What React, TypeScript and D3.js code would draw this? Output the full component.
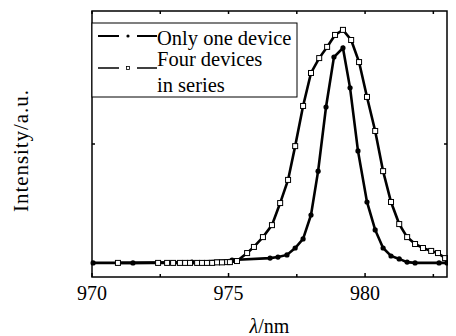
import React from 'react';
import * as d3 from 'd3';

// wavelength (nm) / intensity (a.u.)
const oneDeviceX = [
  970.04, 971.5, 973.66, 975.13, 976.52, 976.81, 977.14, 977.44, 977.73, 978.02, 978.28, 978.57,
  978.86, 979.19, 979.45, 979.74, 980.07, 980.37, 980.66, 980.95, 981.25, 981.54, 981.83, 982.71, 983.0,
];
const oneDeviceY = [
  0.053, 0.053, 0.056, 0.064, 0.071, 0.075, 0.083, 0.109, 0.143, 0.233, 0.398, 0.639, 0.827, 0.861,
  0.711, 0.474, 0.282, 0.177, 0.109, 0.079, 0.068, 0.056, 0.053, 0.053, 0.053,
];

const fourDevicesX = [
  970.95, 972.42, 972.75, 972.97, 973.22, 973.41, 973.59, 973.85, 974.03, 974.21, 974.4, 974.58,
  974.76, 974.95, 975.05, 975.31, 975.68, 975.93, 976.26, 976.59, 976.89, 977.18, 977.44, 977.73,
  978.02, 978.32, 978.61, 978.9, 979.19, 979.49, 979.78, 980.07, 980.37, 980.66, 980.95, 981.25,
  981.54, 981.83, 982.12, 982.42, 982.67, 982.93,
];
const fourDevicesY = [
  0.053, 0.053, 0.053, 0.053, 0.053, 0.053, 0.053, 0.053, 0.053, 0.053, 0.053, 0.055, 0.055, 0.056,
  0.056, 0.06, 0.09, 0.113, 0.15, 0.195, 0.278, 0.365, 0.492, 0.643, 0.767, 0.823, 0.865, 0.91, 0.929,
  0.891, 0.808, 0.677, 0.549, 0.398, 0.282, 0.199, 0.15, 0.124, 0.109, 0.098, 0.09, 0.071,
];

const xLabelTicks = [970, 975, 980];
const xMinorTicks = [972.5, 977.5, 982.5];
const yTicks = [0.5];
const legendLabels = [['Only one device'], ['Four devices', 'in series']];

const width = 456;
const height = 336;

const x = d3.scaleLinear().domain([970, 983]).range([92, 447]);
const y = d3.scaleLinear().domain([0, 1]).range([277, 11]);

const App: React.FC = () => {
  const [x0, x1] = x.range();
  const [y0, y1] = y.range();

  const one = oneDeviceX.map((v, i) => [v, oneDeviceY[i]] as [number, number]);
  const four = fourDevicesX.map((v, i) => [v, fourDevicesY[i]] as [number, number]);

  const line = d3
    .line<[number, number]>()
    .x((d) => x(d[0]))
    .y((d) => y(d[1]));

  const rows = [36, 68];
  const baselines = [45, 66];

  // text inherits the page's default serif face
  return (
    <svg width={width} height={height} style={{ display: 'block', margin: '-8px 0 0 -8px' }}>
      {/* curves */}
      <path d={line(one) ?? ''} fill="none" stroke="#000" strokeWidth={2.6} />
      <path d={line(four) ?? ''} fill="none" stroke="#000" strokeWidth={2.6} />
      {one.map((d, i) => (
        <circle key={'c' + i} cx={x(d[0])} cy={y(d[1])} r={2.6} fill="#000" />
      ))}
      {four.map((d, i) => (
        <rect key={'s' + i} x={x(d[0]) - 2.5} y={y(d[1]) - 2.5} width={5} height={5} fill="#fff" stroke="#000" strokeWidth={1} />
      ))}

      {/* frame */}
      <rect x={x0} y={y1} width={x1 - x0} height={y0 - y1} fill="none" stroke="#000" strokeWidth={1.5} />

      {/* inward ticks */}
      {xLabelTicks.map((t) => (
        <g key={'xt' + t}>
          <line x1={x(t)} x2={x(t)} y1={y0} y2={y0 - 4} stroke="#000" strokeWidth={1.5} />
          <line x1={x(t)} x2={x(t)} y1={y1} y2={y1 + 3} stroke="#000" strokeWidth={1.5} />
          <text x={x(t)} y={300} textAnchor="middle" fontSize={20}>
            {t}
          </text>
        </g>
      ))}
      {xMinorTicks.map((t) => (
        <g key={'xm' + t}>
          <line x1={x(t)} x2={x(t)} y1={y0} y2={y0 - 3} stroke="#000" strokeWidth={1.5} />
          <line x1={x(t)} x2={x(t)} y1={y1} y2={y1 + 3} stroke="#000" strokeWidth={1.5} />
        </g>
      ))}
      {yTicks.map((t) => (
        <g key={'yt' + t}>
          <line x1={x1} x2={x1 - 3} y1={y(t)} y2={y(t)} stroke="#000" strokeWidth={1.5} />
          <line x1={x0} x2={x0 + 3} y1={y(t)} y2={y(t)} stroke="#000" strokeWidth={1.5} />
        </g>
      ))}

      {/* axis titles */}
      <text x={(x0 + x1) / 2} y={333} textAnchor="middle" fontSize={20}>
        <tspan fontStyle="italic">λ</tspan>
        <tspan>/nm</tspan>
      </text>
      <text transform="translate(28,151) rotate(-90)" textAnchor="middle" fontSize={21} textLength={122}>
        Intensity/a.u.
      </text>

      {/* legend */}
      <rect x={x0} y={23} width={297 - x0} height={74} fill="#fff" stroke="#000" strokeWidth={1} />
      {rows.map((ry, i) => (
        <g key={'lg' + i}>
          <line x1={98} x2={119} y1={ry} y2={ry} stroke="#000" strokeWidth={i ? 1.5 : 2} />
          <line x1={137} x2={157} y1={ry} y2={ry} stroke="#000" strokeWidth={i ? 1.5 : 2} />
          {i === 0 ? (
            <circle cx={128} cy={ry} r={1.6} fill="#000" />
          ) : (
            <rect x={126.5} y={ry - 1.5} width={3} height={3} fill="#fff" stroke="#000" strokeWidth={0.8} />
          )}
          {legendLabels[i].map((t, j) => (
            <text key={t} x={157} y={baselines[i] + j * 26} fontSize={20.5}>
              {t}
            </text>
          ))}
        </g>
      ))}
    </svg>
  );
};

export default App;
